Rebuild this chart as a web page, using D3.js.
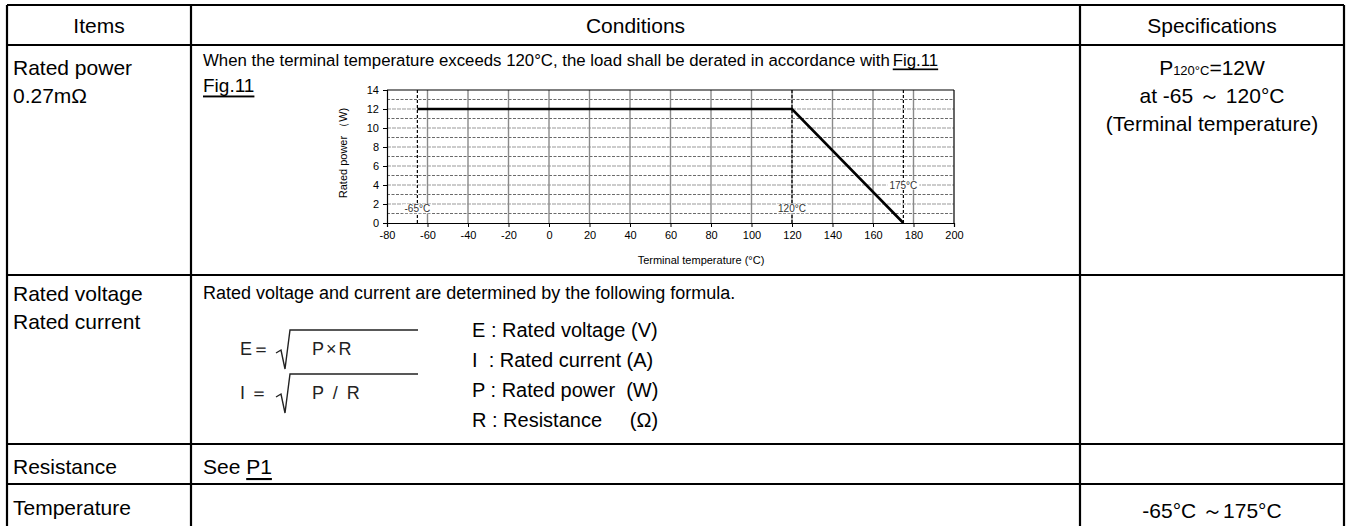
<!DOCTYPE html>
<html><head><meta charset="utf-8">
<script src="https://cdn.jsdelivr.net/npm/d3@7"></script>
<style>
html,body{margin:0;padding:0;background:#fff;}
svg{display:block;font-family:"Liberation Sans",Arial,sans-serif;}
text{white-space:pre;}
</style></head>
<body><svg id="c" width="1351" height="526"></svg>
<script>
// ---- data ----
const derateTemp = [-65, 120, 175];
const deratePower = [12, 12, 0];
const xTicks = [-80, -60, -40, -20, 0, 20, 40, 60, 80, 100, 120, 140, 160, 180, 200];
const yTicks = [0, 2, 4, 6, 8, 10, 12, 14];
const yMinor = [1, 3, 5, 7, 9, 11, 13];
const markerTemps = [-65, 120, 175];
const markerLabels = ["-65\u00b0C", "120\u00b0C", "175\u00b0C"];
const markerLabelPower = [1.5, 1.5, 4];
const headers = ["Items", "Conditions", "Specifications"];
const legendLines = ["E : Rated voltage (V)", "I  : Rated current (A)", "P : Rated power  (W)", "R : Resistance     (\u03a9)"];

const svg = d3.select("#c");
const F = "Liberation Sans, Arial, sans-serif";

// ---- table geometry ----
const colX = [7, 191, 1080, 1344];
const rowY = [5, 45, 275, 444, 484, 540];
const tbl = svg.append("g");

function txt(x, y, s, opt = {}) {
  return tbl.append("text").attr("x", x).attr("y", y).attr("dominant-baseline", "central")
    .attr("font-size", opt.size || 21).attr("fill", "#000")
    .attr("text-anchor", opt.anchor || "start").text(s);
}
headers.forEach((h, i) => txt((colX[i] + colX[i + 1]) / 2, 25, h, {anchor: "middle"}));

// items column
txt(13, 67, "Rated power");
txt(13, 95, "0.27m\u03a9");
txt(13, 293, "Rated voltage");
txt(13, 321, "Rated current");
txt(13, 466, "Resistance");
txt(13, 507, "Temperature");

// conditions row 1
const c1 = txt(203, 60, "When the terminal temperature exceeds 120\u00b0C, the load shall be derated in accordance with", {size: 16.8});
const c1w = c1.node().getComputedTextLength();
txt(203 + c1w + 3, 60, "Fig.11", {size: 16.8}).attr("text-decoration", "underline");
txt(203, 85, "Fig.11", {size: 19}).attr("text-decoration", "underline");

// conditions row 2
txt(203, 293, "Rated voltage and current are determined by the following formula.", {size: 18});

// formulas
function formula(y, lhs, rhs) {
  const g = tbl.append("g").attr("fill", "#222");
  g.append("text").attr("x", 240).attr("y", y).attr("dominant-baseline", "central")
    .attr("font-size", 18).text(lhs);
  g.append("path").attr("d", `M276,${y + 4} L281,${y + 1} L285,${y + 20} L290,${y - 19} L418,${y - 19}`)
    .attr("fill", "none").attr("stroke", "#222").attr("stroke-width", 1.4);
  g.append("text").attr("x", 312).attr("y", y).attr("dominant-baseline", "central")
    .attr("font-size", 18).attr("letter-spacing", 2).text(rhs);
}
formula(349, "E\uff1d", "P\u00d7R");
formula(393, "I \uff1d", "P / R");

legendLines.forEach((s, i) => txt(472, 330 + i * 30, s, {size: 20}));

// resistance row
const see = tbl.append("text").attr("x", 203).attr("y", 466).attr("dominant-baseline", "central").attr("font-size", 21);
see.append("tspan").text("See ");
see.append("tspan").attr("text-decoration", "underline").text("P1");

// specifications column
const sp = tbl.append("text").attr("x", 1212).attr("y", 67).attr("dominant-baseline", "central")
  .attr("text-anchor", "middle").attr("font-size", 21);
sp.append("tspan").text("P");
sp.append("tspan").attr("font-size", 13).attr("dy", 3).text("120\u00b0C");
sp.append("tspan").attr("dy", -3).text("=12W");
txt(1212, 95, "at -65 \uff5e 120\u00b0C", {anchor: "middle"});
txt(1212, 123, "(Terminal temperature)", {anchor: "middle"});
txt(1212, 510, "-65\u00b0C \uff5e175\u00b0C", {anchor: "middle"});

// borders
const lines = tbl.append("g").attr("stroke", "#000").attr("stroke-width", 2.2);
rowY.slice(0, 5).forEach(y => lines.append("line").attr("x1", colX[0]).attr("x2", colX[3]).attr("y1", y).attr("y2", y));
colX.forEach(x => lines.append("line").attr("x1", x).attr("x2", x).attr("y1", rowY[0]).attr("y2", 526));

// ---- chart ----
const x = d3.scaleLinear().domain([-80, 200]).range([387, 954]);
const y = d3.scaleLinear().domain([0, 14]).range([223, 90]);
const ch = svg.append("g");

// horizontal grid
ch.append("g").selectAll("line").data(yMinor).join("line")
  .attr("x1", x(-80)).attr("x2", x(200)).attr("y1", d => y(d)).attr("y2", d => y(d))
  .attr("stroke", "#444").attr("stroke-width", 0.8).attr("stroke-dasharray", "3,1.5");
ch.append("g").selectAll("line").data(yTicks.filter(d => d > 0 && d < 14)).join("line")
  .attr("x1", x(-80)).attr("x2", x(200)).attr("y1", d => y(d)).attr("y2", d => y(d))
  .attr("stroke", "#999").attr("stroke-width", 1.2).attr("stroke-dasharray", "4,1");
// vertical grid
ch.append("g").selectAll("line").data(xTicks.filter(d => d > -80 && d < 200)).join("line")
  .attr("x1", d => x(d)).attr("x2", d => x(d)).attr("y1", y(0)).attr("y2", y(14))
  .attr("stroke", "#8a8a8a").attr("stroke-width", 1.4);

// frame top/right
ch.append("line").attr("x1", x(-80)).attr("x2", x(200)).attr("y1", y(14)).attr("y2", y(14)).attr("stroke", "#000").attr("stroke-width", 1.2);
ch.append("line").attr("x1", x(200)).attr("x2", x(200)).attr("y1", y(0)).attr("y2", y(14)).attr("stroke", "#000").attr("stroke-width", 1.2);

// axes
const xa = ch.append("g").attr("transform", `translate(0,${y(0)})`)
  .call(d3.axisBottom(x).tickValues(xTicks).tickSize(4).tickPadding(4).tickFormat(d => String(d)));
const ya = ch.append("g").attr("transform", `translate(${x(-80)},0)`)
  .call(d3.axisLeft(y).tickValues(yTicks).tickSize(4).tickPadding(4).tickFormat(d => String(d)));
[xa, ya].forEach(a => {
  a.select(".domain").attr("stroke", "#000").attr("stroke-width", 1.2);
  a.selectAll(".tick line").attr("stroke", "#000");
  a.selectAll("text").attr("font-size", 11).attr("font-family", F).attr("fill", "#000");
});

// marker dashed verticals
ch.append("g").selectAll("line").data(markerTemps).join("line")
  .attr("x1", d => x(d)).attr("x2", d => x(d)).attr("y1", y(0)).attr("y2", y(14))
  .attr("stroke", "#000").attr("stroke-width", 1.2).attr("stroke-dasharray", "3,2");

// derating line
ch.append("path").datum(derateTemp.map((t, i) => [t, deratePower[i]]))
  .attr("d", d3.line().x(d => x(d[0])).y(d => y(d[1])))
  .attr("fill", "none").attr("stroke", "#000").attr("stroke-width", 2.6);

// marker labels
markerTemps.forEach((t, i) => {
  const g = ch.append("g");
  const tx = g.append("text").attr("x", x(t)).attr("y", y(markerLabelPower[i]))
    .attr("text-anchor", "middle").attr("dominant-baseline", "central")
    .attr("font-size", 10).attr("fill", "#333").text(markerLabels[i]);
  const bb = tx.node().getBBox();
  g.insert("rect", "text").attr("x", bb.x - 2).attr("y", bb.y + 1).attr("width", bb.width + 4).attr("height", bb.height - 2).attr("fill", "#fff");
});

// axis titles
ch.append("text").attr("x", 701).attr("y", 260).attr("text-anchor", "middle").attr("dominant-baseline", "central")
  .attr("font-size", 11).text("Terminal temperature (\u00b0C)");
ch.append("text").attr("transform", "translate(343,153) rotate(-90)").attr("text-anchor", "middle")
  .attr("dominant-baseline", "central").attr("font-size", 11).text("Rated power \uff08W)");
</script></body></html>
